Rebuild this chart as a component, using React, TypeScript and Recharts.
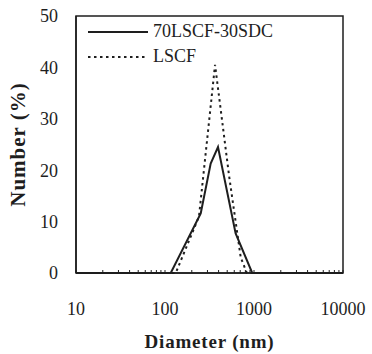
import { LineChart, Line, XAxis, YAxis, ReferenceArea } from "recharts";

const xTicks = [10, 20, 30, 40, 50, 60, 70, 80, 90, 100, 200, 300, 400, 500, 600, 700, 800, 900, 1000, 2000, 3000, 4000, 5000, 6000, 7000, 8000, 9000, 10000];
const xLabels = [10, 100, 1000, 10000];
const yTicks = [0, 10, 20, 30, 40, 50];

const compDiam = [10, 116, 252, 326, 394, 622, 955, 10000];
const compNum = [0, 0, 11.6, 21.3, 24.5, 7.7, 0, 0];

const lscfDiam = [10, 132, 241, 365, 524, 710, 832, 10000];
const lscfNum = [0, 0, 11, 40.5, 19, 3, 0, 0];

const compData = compDiam.map((d, i) => ({ d, v: compNum[i] }));
const lscfData = lscfDiam.map((d, i) => ({ d, v: lscfNum[i] }));

const FONT = "'Liberation Serif', 'Times New Roman', Times, serif";
const TICK_MARGIN = 29;
const INK = "#1e1e1e";

function XTick(props: any) {
  const { x, y, payload } = props;
  const axisY = y - TICK_MARGIN;
  const isLabel = xLabels.includes(payload.value);
  return (
    <g>
      <line x1={x} x2={x} y1={axisY} y2={axisY - 3} stroke={INK} strokeWidth={1} />
      {isLabel && (
        <text x={x} y={y} dy="0.71em" textAnchor="middle" style={{ fontFamily: FONT, fontSize: 18 }} fill={INK}>
          {payload.value}
        </text>
      )}
    </g>
  );
}

function LegendBox() {
  return (
    <div style={{ position: "absolute", left: 88, top: 19, fontFamily: FONT, fontSize: 18, color: INK, lineHeight: "25px" }}>
      <div style={{ display: "flex", alignItems: "center" }}>
        <svg width={62} height={6}>
          <line x1={0} x2={60} y1={3} y2={3} stroke={INK} strokeWidth={2} />
        </svg>
        <span style={{ marginLeft: 3 }}>70LSCF-30SDC</span>
      </div>
      <div style={{ display: "flex", alignItems: "center" }}>
        <svg width={62} height={6}>
          <line x1={0} x2={60} y1={3} y2={3} stroke={INK} strokeWidth={2} strokeDasharray="2.5 3.5" />
        </svg>
        <span style={{ marginLeft: 3 }}>LSCF</span>
      </div>
    </div>
  );
}

export default function App() {
  return (
    <div style={{ position: "absolute", left: 0, top: 0, width: 372, height: 354, background: "#fff", fontFamily: FONT }}>
      <LineChart width={372} height={354} margin={{ top: 16, right: 29, bottom: 0, left: 0 }}>
        <XAxis
          dataKey="d"
          type="number"
          scale="log"
          domain={[10, 10000]}
          ticks={xTicks}
          interval={0}
          allowDataOverflow
          height={81}
          tickLine={false}
          tickSize={0}
          tickMargin={TICK_MARGIN}
          tick={<XTick />}
          axisLine={{ stroke: INK, strokeWidth: 1.5 }}
          label={{
            value: "Diameter (nm)",
            position: "insideBottom",
            offset: 6,
            style: { fontFamily: FONT, fontSize: 19, fontWeight: "bold", fill: INK, letterSpacing: 0.8 },
          }}
        />
        <YAxis
          type="number"
          domain={[0, 50]}
          ticks={yTicks}
          width={76}
          tickLine={false}
          tickSize={0}
          tickMargin={18}
          axisLine={{ stroke: INK, strokeWidth: 1.5 }}
          tick={{ fontFamily: FONT, fontSize: 18, fill: INK }}
          label={{
            value: "Number (%)",
            angle: -90,
            position: "insideLeft",
            offset: 18,
            style: { fontFamily: FONT, fontSize: 21, fontWeight: "bold", fill: INK, textAnchor: "middle", letterSpacing: 1 },
          }}
        />
        <ReferenceArea x1={10} x2={10000} y1={0} y2={50} fill="none" stroke={INK} strokeWidth={1.5} />
        <Line data={compData} dataKey="v" type="linear" stroke={INK} strokeWidth={2} dot={false} isAnimationActive={false} />
        <Line data={lscfData} dataKey="v" type="linear" stroke={INK} strokeWidth={2} strokeDasharray="2.5 3.5" dot={false} isAnimationActive={false} />
      </LineChart>
      <LegendBox />
    </div>
  );
}
